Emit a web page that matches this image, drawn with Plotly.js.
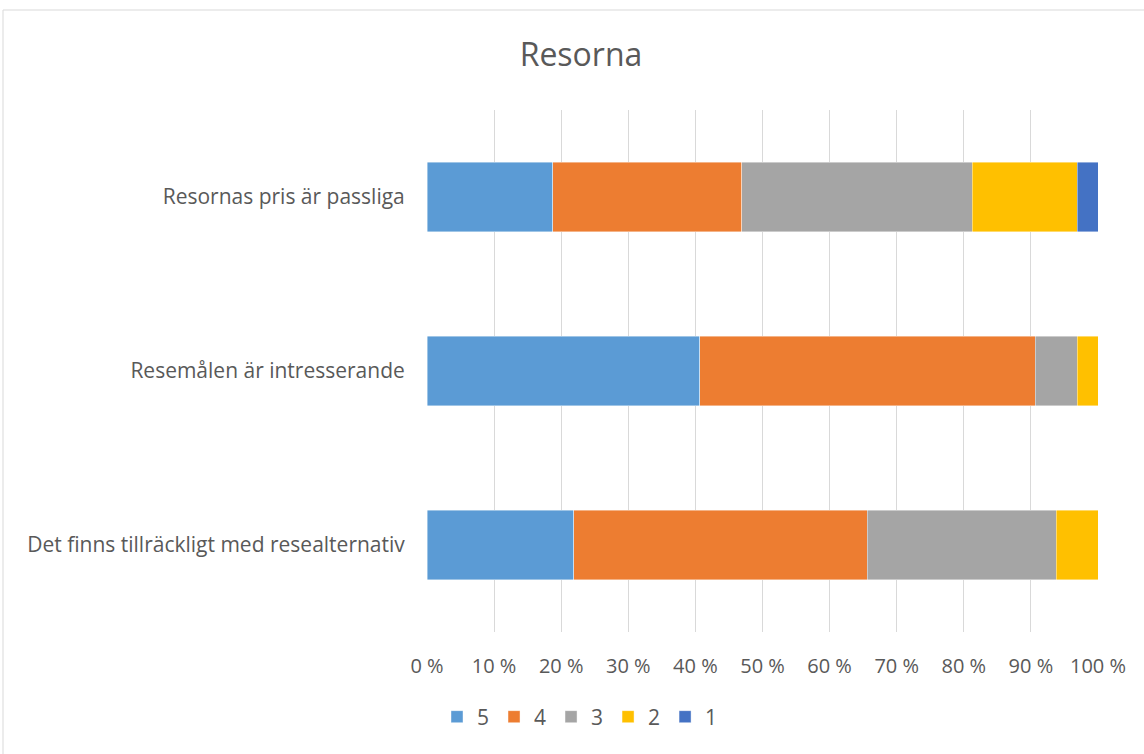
<!DOCTYPE html>
<html><head><meta charset="utf-8">
<script src="https://cdn.plot.ly/plotly-3.0.1.min.js"></script>
<style>body{margin:0;background:#fff}#c{width:1144px;height:754px}</style>
</head><body><div id="c"></div>
<script>
const categories = ["Det finns tillräckligt med resealternativ", "Resemålen är intresserande", "Resornas pris är passliga"];
const seriesNames = ["5", "4", "3", "2", "1"];
const s5 = [21.875, 40.625, 18.75];
const s4 = [43.75, 50.0, 28.125];
const s3 = [28.125, 6.25, 34.375];
const s2 = [6.25, 3.125, 15.625];
const s1 = [0, 0, 3.125];
const colors = ["#5B9BD5", "#ED7D31", "#A5A5A5", "#FFC000", "#4472C4"];
const tickVals = [0,10,20,30,40,50,60,70,80,90,100];
const tickText = ["0 %","10 %","20 %","30 %","40 %","50 %","60 %","70 %","80 %","90 %","100 %"];
const values = [s5, s4, s3, s2, s1];
const font = "Open Sans, sans-serif";
const traces = values.map((v, i) => ({
  type: "bar", orientation: "h", name: seriesNames[i], y: categories, x: v,
  marker: {color: colors[i], line: {color: "rgba(255,255,255,0.6)", width: 0.7}},
  hoverinfo: "x+name"
}));
const L = 427, R = 46, T = 110, B = 122;
const pw = 1144 - L - R, ph = 754 - T - B;
const layout = {
  width: 1144, height: 754, barmode: "stack", bargap: 0.6,
  margin: {l: L, r: R, t: T, b: B},
  paper_bgcolor: "#fff", plot_bgcolor: "#fff",
  font: {family: font, color: "#595959", size: 20},
  title: {text: "Resorna", x: 581/1144, xref: "container", xanchor: "center", y: 1 - 55/754, yanchor: "middle", font: {size: 32, color: "#595959", family: font}},
  xaxis: {range: [0, 100], tickvals: tickVals, ticktext: tickText, showgrid: true, gridcolor: "#D9D9D9", gridwidth: 1,
          zeroline: false, showline: false, ticks: "outside", ticklen: 16, tickcolor: "rgba(0,0,0,0)",
          tickfont: {size: 20, color: "#595959"}, fixedrange: true},
  yaxis: {type: "category", showgrid: false, zeroline: false, showline: false, ticks: "outside", ticklen: 17,
          tickcolor: "rgba(0,0,0,0)", tickfont: {size: 21, color: "#595959"}, range: [-0.5, 2.5]},
  legend: {orientation: "h", x: 580/1144, xanchor: "center", xref: "container", y: 1 - 717/754, yref: "container", yanchor: "middle",
           font: {size: 21, color: "#595959"}, traceorder: "normal", itemwidth: 30},
  showlegend: true,
  shapes: [{type: "rect", xref: "paper", yref: "paper", x0: (3 - L)/pw, x1: (1150 - L)/pw, y0: (754 - 760 - B)/ph, y1: (754 - 10 - B)/ph,
            line: {color: "#D9D9D9", width: 1}, fillcolor: "rgba(0,0,0,0)", layer: "below"}]
};
Plotly.newPlot("c", traces, layout, {displayModeBar: false, staticPlot: true});
</script></body></html>
